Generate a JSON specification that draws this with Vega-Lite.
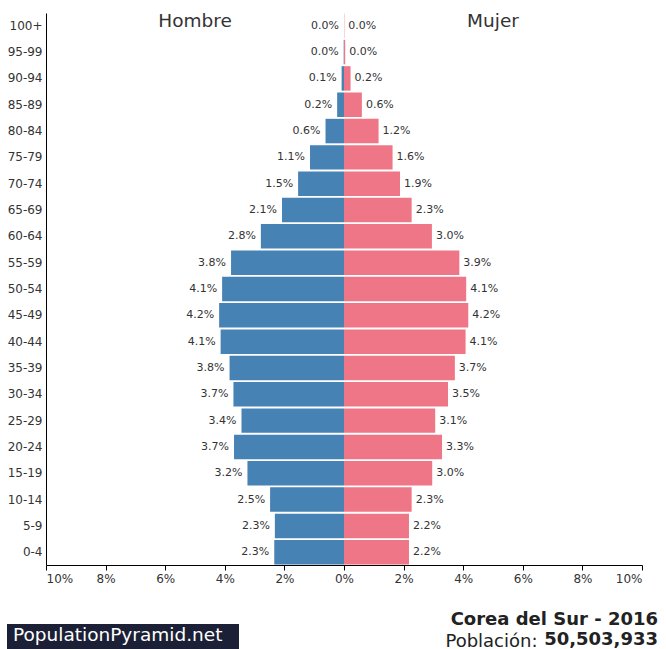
{
  "$schema": "https://vega.github.io/schema/vega-lite/v6.json",
  "width": 596,
  "height": 552,
  "autosize": {"type": "none"},
  "padding": {"left": 46, "top": 13, "right": 24, "bottom": 84},
  "background": "white",
  "config": {"font": "DejaVu Sans", "view": {"stroke": null}},
  "title": {
    "text": "Corea del Sur - 2016",
    "subtitle": "50,503,933",
    "orient": "bottom",
    "anchor": "end",
    "frame": "group",
    "fontSize": 18,
    "fontWeight": "bold",
    "color": "#222",
    "subtitleFontSize": 18,
    "subtitleFontWeight": "bold",
    "subtitleColor": "#222",
    "subtitlePadding": 2,
    "offset": -40,
    "dx": 16
  },
  "data": {
    "values": [
      {"age": "0-4", "sex": "Hombre", "value": 2.34}, {"age": "0-4", "sex": "Mujer", "value": 2.18},
      {"age": "5-9", "sex": "Hombre", "value": 2.32}, {"age": "5-9", "sex": "Mujer", "value": 2.18},
      {"age": "10-14", "sex": "Hombre", "value": 2.48}, {"age": "10-14", "sex": "Mujer", "value": 2.27},
      {"age": "15-19", "sex": "Hombre", "value": 3.24}, {"age": "15-19", "sex": "Mujer", "value": 2.96},
      {"age": "20-24", "sex": "Hombre", "value": 3.69}, {"age": "20-24", "sex": "Mujer", "value": 3.29},
      {"age": "25-29", "sex": "Hombre", "value": 3.44}, {"age": "25-29", "sex": "Mujer", "value": 3.06},
      {"age": "30-34", "sex": "Hombre", "value": 3.71}, {"age": "30-34", "sex": "Mujer", "value": 3.49},
      {"age": "35-39", "sex": "Hombre", "value": 3.84}, {"age": "35-39", "sex": "Mujer", "value": 3.72},
      {"age": "40-44", "sex": "Hombre", "value": 4.14}, {"age": "40-44", "sex": "Mujer", "value": 4.08},
      {"age": "45-49", "sex": "Hombre", "value": 4.19}, {"age": "45-49", "sex": "Mujer", "value": 4.17},
      {"age": "50-54", "sex": "Hombre", "value": 4.09}, {"age": "50-54", "sex": "Mujer", "value": 4.1},
      {"age": "55-59", "sex": "Hombre", "value": 3.79}, {"age": "55-59", "sex": "Mujer", "value": 3.87},
      {"age": "60-64", "sex": "Hombre", "value": 2.79}, {"age": "60-64", "sex": "Mujer", "value": 2.95},
      {"age": "65-69", "sex": "Hombre", "value": 2.08}, {"age": "65-69", "sex": "Mujer", "value": 2.27},
      {"age": "70-74", "sex": "Hombre", "value": 1.54}, {"age": "70-74", "sex": "Mujer", "value": 1.88},
      {"age": "75-79", "sex": "Hombre", "value": 1.14}, {"age": "75-79", "sex": "Mujer", "value": 1.63},
      {"age": "80-84", "sex": "Hombre", "value": 0.62}, {"age": "80-84", "sex": "Mujer", "value": 1.16},
      {"age": "85-89", "sex": "Hombre", "value": 0.23}, {"age": "85-89", "sex": "Mujer", "value": 0.6},
      {"age": "90-94", "sex": "Hombre", "value": 0.08}, {"age": "90-94", "sex": "Mujer", "value": 0.22},
      {"age": "95-99", "sex": "Hombre", "value": 0.01}, {"age": "95-99", "sex": "Mujer", "value": 0.04},
      {"age": "100+", "sex": "Hombre", "value": 0.0}, {"age": "100+", "sex": "Mujer", "value": 0.01}
    ]
  },
  "transform": [
    {"calculate": "datum.sex === 'Hombre' ? -datum.value : datum.value", "as": "x"},
    {"calculate": "format(datum.value, '.1f') + '%'", "as": "label"}
  ],
  "encoding": {
    "y": {
      "field": "age",
      "type": "nominal",
      "sort": ["100+", "95-99", "90-94", "85-89", "80-84", "75-79", "70-74", "65-69", "60-64", "55-59", "50-54", "45-49", "40-44", "35-39", "30-34", "25-29", "20-24", "15-19", "10-14", "5-9", "0-4"],
      "scale": {"paddingInner": 0.07, "paddingOuter": 0.02},
      "axis": {
        "title": null,
        "ticks": false,
        "labelPadding": 4,
        "labelFontSize": 12,
        "labelColor": "#333",
        "domainColor": "#000",
        "grid": false
      }
    }
  },
  "layer": [
    {
      "mark": {"type": "bar"},
      "encoding": {
        "x": {
          "field": "x",
          "type": "quantitative",
          "scale": {"domain": [-10, 10], "nice": false},
          "axis": {
            "values": [-10, -8, -6, -4, -2, 0, 2, 4, 6, 8, 10],
            "labelExpr": "abs(datum.value) + '%'",
            "title": "Población:",
            "titleX": 491,
            "titleY": 76,
            "titleAlign": "right",
            "titleBaseline": "middle",
            "titleFontSize": 18,
            "titleFontWeight": "normal",
            "titleColor": "#222",
            "grid": false,
            "domainColor": "#000",
            "tickColor": "#000",
            "tickSize": 5,
            "labelFontSize": 12,
            "labelColor": "#333",
            "labelPadding": 3
          }
        },
        "color": {
          "field": "sex",
          "type": "nominal",
          "scale": {"domain": ["Hombre", "Mujer"], "range": ["#4682b4", "#ef7686"]},
          "legend": {
            "orient": "none",
            "legendX": -39,
            "legendY": 611,
            "title": "PopulationPyramid.net",
            "titleLimit": 400,
            "titleColor": "white",
            "titleFontSize": 18.5,
            "titleFontWeight": "normal",
            "titleOrient": "left",
            "titlePadding": 0,
            "fillColor": "#1c2036",
            "padding": 6,
            "values": ["Hombre"],
            "labelExpr": "''",
            "symbolSize": 0,
            "symbolStrokeWidth": 0,
            "symbolOpacity": 0,
            "labelOffset": 0,
            "cornerRadius": 0
          }
        }
      }
    },
    {
      "transform": [{"filter": "datum.sex === 'Hombre'"}],
      "mark": {"type": "text", "align": "right", "dx": -5, "fontSize": 11, "color": "#333"},
      "encoding": {"x": {"field": "x", "type": "quantitative"}, "text": {"field": "label"}}
    },
    {
      "transform": [{"filter": "datum.sex === 'Mujer'"}],
      "mark": {"type": "text", "align": "left", "dx": 4, "fontSize": 11, "color": "#333"},
      "encoding": {"x": {"field": "x", "type": "quantitative"}, "text": {"field": "label"}}
    },
    {
      "data": {"values": [{"age": "100+", "x": -5, "t": "Hombre"}, {"age": "100+", "x": 5, "t": "Mujer"}]},
      "mark": {"type": "text", "fontSize": 18.5, "dy": -5, "color": "#333"},
      "encoding": {"x": {"field": "x", "type": "quantitative"}, "text": {"field": "t"}}
    }
  ]
}
